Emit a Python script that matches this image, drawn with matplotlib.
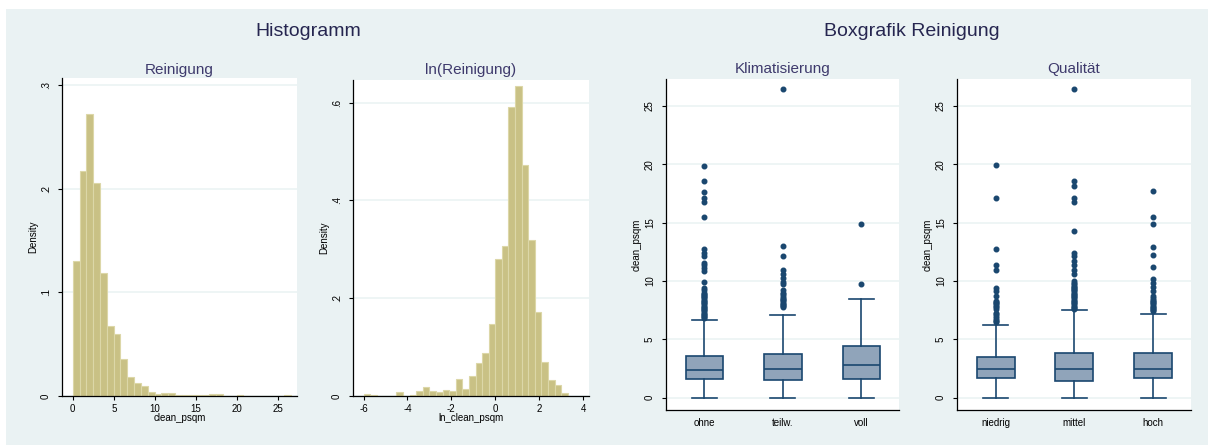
import numpy as np
import matplotlib
matplotlib.use("Agg")
import matplotlib.pyplot as plt
from matplotlib.patches import Rectangle

plt.rcParams['font.family'] = ['Liberation Sans', 'DejaVu Sans']
plt.rcParams['axes.unicode_minus'] = False

# histogram of clean_psqm: 32 bins from 0 to 26.6, density per bin
clean_range = (0.0, 26.6)
clean_density = [0.130, 0.217, 0.272, 0.206, 0.119, 0.068, 0.060, 0.036,
                 0.018, 0.013, 0.010, 0.0042, 0.0016, 0.0032, 0.0032, 0.001,
                 0.001, 0.001, 0.001, 0.001, 0.0023, 0.0023, 0.0, 0.0,
                 0.001, 0.0, 0.0, 0.0, 0.0, 0.0, 0.0, 0.001]

# histogram of ln_clean_psqm: 31 bins from -6.0 to 3.3
ln_range = (-6.0, 3.3)
ln_density = [0.005, 0.003, 0.0, 0.0, 0.0, 0.0075, 0.0, 0.002, 0.0095, 0.018,
              0.0095, 0.0075, 0.012, 0.0095, 0.035, 0.015, 0.041, 0.067, 0.088,
              0.148, 0.281, 0.306, 0.591, 0.634, 0.473, 0.318, 0.172, 0.070,
              0.032, 0.022, 0.007]

# box plots: clean_psqm by Klimatisierung
klima_labels = ['ohne', 'teilw.', 'voll']
klima_q1 = [1.57, 1.49, 1.57]
klima_med = [2.34, 2.43, 2.77]
klima_q3 = [3.57, 3.74, 4.43]
klima_whislo = [0.0, 0.0, 0.0]
klima_whishi = [6.66, 7.06, 8.49]
klima_fliers = [
    [6.8, 6.9, 7.0, 7.1, 7.2, 7.3, 7.4, 7.5, 7.6, 7.7, 7.8, 7.9, 8.0, 8.1,
     8.2, 8.3, 8.4, 8.5, 8.6, 8.7, 8.8, 8.9, 9.0, 9.2, 9.4, 9.94, 10.86,
     11.1, 11.37, 11.5, 12.14, 12.43, 12.7, 15.51, 16.8, 17.1, 17.66, 18.6,
     19.89],
    [7.75, 7.85, 7.95, 8.05, 8.15, 8.25, 8.35, 8.45, 8.55, 8.7, 8.85, 9.0,
     9.2, 9.7, 9.94, 10.23, 10.57, 10.9, 12.17, 12.97, 26.46],
    [9.74, 14.86],
]

# box plots: clean_psqm by Qualitaet
qual_labels = ['niedrig', 'mittel', 'hoch']
qual_q1 = [1.66, 1.46, 1.66]
qual_med = [2.43, 2.43, 2.43]
qual_q3 = [3.51, 3.80, 3.80]
qual_whislo = [0.0, 0.0, 0.0]
qual_whishi = [6.2, 7.49, 7.17]
qual_fliers = [
    [6.5, 6.6, 6.7, 6.8, 7.0, 7.2, 7.3, 7.6, 7.8, 7.9, 8.0, 8.1, 8.2, 8.3,
     8.7, 9.1, 9.4, 10.9, 11.4, 12.7, 17.1, 19.9],
    [7.6, 7.7, 7.8, 7.9, 8.0, 8.1, 8.2, 8.3, 8.4, 8.5, 8.6, 8.7, 8.8, 8.9,
     9.0, 9.1, 9.2, 9.3, 9.4, 9.5, 9.6, 9.7, 9.8, 10.0, 10.6, 10.9, 11.4,
     11.7, 12.1, 12.4, 14.3, 16.8, 17.1, 18.1, 18.6, 26.46],
    [7.4, 7.5, 7.6, 7.7, 7.8, 7.9, 8.0, 8.1, 8.2, 8.3, 8.4, 8.5, 8.7, 9.1,
     9.5, 9.8, 10.2, 11.2, 12.2, 12.9, 14.9, 15.5, 17.7],
]

BG = '#eaf2f3'
NAVY = '#1a476f'
BAR = '#c9c185'
BAR_EDGE = '#dcd7a8'
TITLE_C = '#262650'
SUB_C = '#3e3a6c'

W, H = 1208, 445
fig = plt.figure(figsize=(W / 100, H / 100), dpi=100, facecolor='white')
fig.patches.append(Rectangle((6 / W, 0), 1 - 6 / W, 1 - 9 / H,
                             transform=fig.transFigure, facecolor=BG,
                             edgecolor='none', zorder=-10))


def make_axes(left, right, top, bottom):
    ax = fig.add_axes([left / W, 1 - bottom / H, (right - left) / W, (bottom - top) / H])
    ax.set_facecolor('white')
    for s in ['top', 'right']:
        ax.spines[s].set_visible(False)
    for s in ['left', 'bottom']:
        ax.spines[s].set_color('black')
        ax.spines[s].set_linewidth(0.9)
    ax.tick_params(axis='both', labelsize=7, length=3, width=0.8, color='black')
    ax.tick_params(axis='y', labelrotation=90, pad=5)
    ax.tick_params(axis='x', pad=3)
    ax.grid(axis='y', color=BG, linewidth=1.1)
    ax.set_axisbelow(True)
    return ax


def draw_hist(ax, rng, dens):
    edges = np.linspace(rng[0], rng[1], len(dens) + 1)
    ax.bar(edges[:-1], dens, width=np.diff(edges), align='edge',
           color=BAR, edgecolor=BAR_EDGE, linewidth=0.8)


def draw_box(ax, labels, q1, med, q3, lo, hi, fliers):
    stats = []
    for i in range(len(labels)):
        stats.append(dict(q1=q1[i], med=med[i], q3=q3[i], whislo=lo[i],
                          whishi=hi[i], fliers=fliers[i], label=labels[i]))
    ax.bxp(stats, positions=[1, 2, 3], widths=0.48, capwidths=0.32,
           patch_artist=True,
           boxprops=dict(facecolor='#90a4ba', edgecolor=NAVY, linewidth=1.2),
           medianprops=dict(color=NAVY, linewidth=1.2),
           whiskerprops=dict(color=NAVY, linewidth=1.2),
           capprops=dict(color=NAVY, linewidth=1.2),
           flierprops=dict(marker='o', markersize=3.3, markerfacecolor=NAVY,
                           markeredgecolor=NAVY, linestyle='none'))
    ax.set_xlim(0.51, 3.48)
    ax.set_ylim(-1.05, 27.3)
    ax.set_yticks([0, 5, 10, 15, 20, 25])
    ax.set_yticklabels(['0', '5', '10', '15', '20', '25'], va='center')
    ax.tick_params(axis='x', length=0, pad=6)
    ax.set_ylabel('clean_psqm', fontsize=7, labelpad=2)


# histogram 1
ax1 = make_axes(62, 297, 78, 396)
draw_hist(ax1, clean_range, clean_density)
ax1.set_xlim(-1.3, 27.3)
ax1.set_ylim(0, 0.307)
ax1.set_xticks([0, 5, 10, 15, 20, 25])
ax1.set_yticks([0, 0.1, 0.2, 0.3])
ax1.set_yticklabels(['0', '.1', '.2', '.3'], va='center')
ax1.set_ylabel('Density', fontsize=7, labelpad=2)
ax1.set_xlabel('clean_psqm', fontsize=7, labelpad=-1)
ax1.set_title('Reinigung', fontsize=11, color=SUB_C, pad=3)

# histogram 2
ax2 = make_axes(353, 589, 80, 396)
draw_hist(ax2, ln_range, ln_density)
ax2.set_xlim(-6.48, 4.27)
ax2.set_ylim(0, 0.646)
ax2.set_xticks([-6, -4, -2, 0, 2, 4])
ax2.set_yticks([0, 0.2, 0.4, 0.6])
ax2.set_yticklabels(['0', '.2', '.4', '.6'], va='center')
ax2.set_ylabel('Density', fontsize=7, labelpad=2)
ax2.set_xlabel('ln_clean_psqm', fontsize=7, labelpad=-1)
ax2.set_title('ln(Reinigung)', fontsize=11, color=SUB_C, pad=4)

# box plot 1
ax3 = make_axes(666, 899, 79, 410)
draw_box(ax3, klima_labels, klima_q1, klima_med, klima_q3, klima_whislo,
         klima_whishi, klima_fliers)
ax3.set_title('Klimatisierung', fontsize=11, color=SUB_C, pad=4)

# box plot 2
ax4 = make_axes(957, 1191, 79, 410)
draw_box(ax4, qual_labels, qual_q1, qual_med, qual_q3, qual_whislo,
         qual_whishi, qual_fliers)
ax4.set_title('Qualität', fontsize=11, color=SUB_C, pad=4)

fig.text(308 / W, 1 - 32 / H, 'Histogramm', fontsize=14, color=TITLE_C,
         ha='center', va='center')
fig.text(912 / W, 1 - 32 / H, 'Boxgrafik Reinigung', fontsize=14, color=TITLE_C,
         ha='center', va='center')

fig.savefig('out.png', dpi=100, facecolor='white')
